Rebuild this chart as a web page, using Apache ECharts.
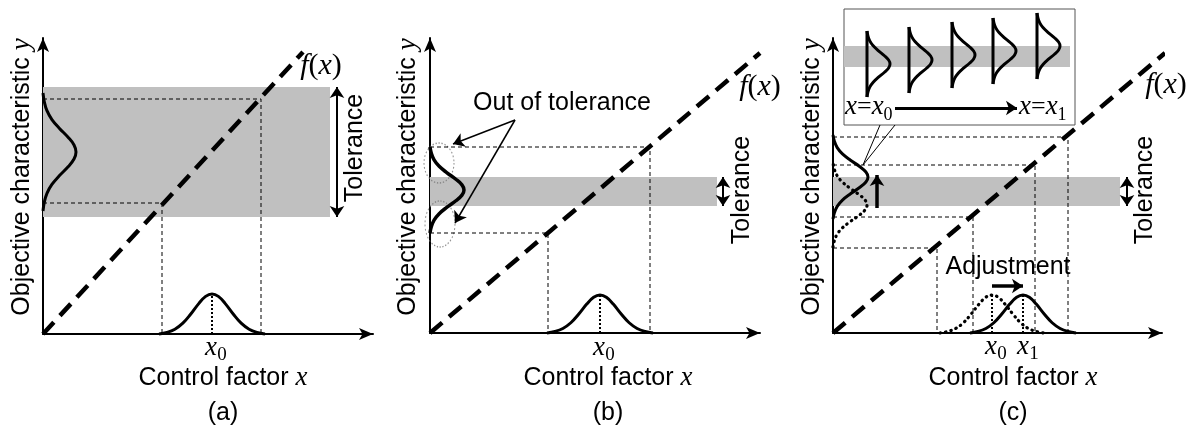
<!DOCTYPE html>
<html>
<head>
<meta charset="utf-8">
<script src="https://cdn.jsdelivr.net/npm/echarts@6/dist/echarts.min.js"></script>
<style>
html,body{margin:0;padding:0;background:#fff}
#main{width:1188px;height:437px}
</style>
</head>
<body>
<div id="main"></div>
<script>
// all values are in axis units (1 unit = 1 px from each panel's origin)
// bell profile: [offset in half-widths, relative height]
var bellShape = [[-1,0],[-0.85,0.04],[-0.7,0.12],[-0.55,0.27],[-0.4,0.5],[-0.25,0.76],[-0.12,0.94],[0,1],
                 [0.12,0.94],[0.25,0.76],[0.4,0.5],[0.55,0.27],[0.7,0.12],[0.85,0.04],[1,0]];

// (a)
var fA = [[0,0],[260,282]];
var tolA = [287, 117, 247];          // band right end, low, high
var tolArrowA = [294, 117, 247];
var guideA = [[119,131],[218,235]];  // where the guide meets f(x)
var bellXA = [[169,53,40]];          // centre, half width, height
var bellYA = [[182,59,33]];

// (b)
var fB = [[0,0],[330,280]];
var tolB = [287, 127, 156];
var tolArrowB = [293, 127, 156];
var guideB = [[118,100],[220,186]];
var bellXB = [[170,53,38]];
var bellYB = [[143,43,34]];
var outRings = [[9,170],[10,109]];
var outArrows = [[[85,213],[23,189]],[[85,213],[25,110]]];

// (c)
var fC = [[0,0],[332,280]];
var tolC = [287, 127, 156];
var tolArrowC = [294, 127, 156];
var guideC = [[104,85],[140,116],[202,168],[235,196]];
var bellXC0 = [[159,52,38]];   // before adjustment (dotted)
var bellXC1 = [[190,53,38]];   // after adjustment
var bellYC0 = [[128,42,34]];
var bellYC1 = [[156,42,35]];
var upArrow = [[44,125],[44,158]];
var adjArrow = [[159,47],[190,47]];
var callout = [[[47,208],[30,168]],[[62,208],[30,168]]];

// inset of (c)
var insetX = [23,65,108,149,193];
var insetMid = [61,65,70,74,79];
var insetBand = [226, 58, 79];
var insetArrow = [[51,17],[173,17]];

var sans = '"Liberation Sans", Arial, sans-serif';
var serif = '"Liberation Serif", "Times New Roman", serif';

var grids = [
    {left:43, top:38, width:330, height:296},
    {left:430, top:38, width:330, height:295},
    {left:833, top:38, width:329, height:295},
    {left:844, top:9, width:231, height:116, show:true, borderColor:'#555', borderWidth:1, backgroundColor:'#fff'}
];

function bellX(b){ return bellShape.map(function(p){ return [b[0]+p[0]*b[1], p[1]*b[2]]; }); }
function bellY(b){ return bellShape.map(function(p){ return [p[1]*b[2], b[0]+p[0]*b[1]]; }); }

var series = [];
function line(g, data, st, extra){
    var s = {type:'line', xAxisIndex:g, yAxisIndex:g, data:data, symbol:'none', silent:true, clip:false,
             z:3, lineStyle:st, animation:false};
    for (var k in extra) s[k] = extra[k];
    series.push(s);
}
var solid = {color:'#000', width:3};
var dotted = {color:'#000', width:3.2, type:[0.5,5], cap:'round'};
var guide = {color:'#000', width:1, type:[4,3]};
var fLine = {color:'#000', width:4.5, type:[16,9]};
var centre = {color:'#000', width:2, type:[2,2]};

function band(g, t){
    series.push({type:'line', xAxisIndex:g, yAxisIndex:g, data:[], z:1, silent:true, animation:false,
        markArea:{silent:true, itemStyle:{color:'#c0c0c0'}, data:[[{coord:[0,t[1]]},{coord:[t[0],t[2]]}]]}});
}
function arrows(g, list, sym, w){
    series.push({type:'line', xAxisIndex:g, yAxisIndex:g, data:[], z:4, silent:true, animation:false,
        markLine:{silent:true, symbol:sym, symbolSize:[11,11], label:{show:false},
            lineStyle:{color:'#000', width:w, type:'solid'},
            data:list.map(function(a){ return [{coord:a[0]},{coord:a[1]}]; })}});
}
function guides(g, list){
    list.forEach(function(p){ line(g, [[0,p[1]],[p[0],p[1]],[p[0],0]], guide); });
}

// (a)
band(0, tolA);
guides(0, guideA);
line(0, fA, fLine);
bellXA.forEach(function(b){ line(0, bellX(b), solid, {smooth:0.4}); line(0, [[b[0],0],[b[0],b[2]]], centre); });
bellYA.forEach(function(b){ line(0, bellY(b), solid, {smooth:0.4}); });
arrows(0, [[[tolArrowA[0],tolArrowA[1]],[tolArrowA[0],tolArrowA[2]]]], ['arrow','arrow'], 2);

// (b)
band(1, tolB);
guides(1, guideB);
line(1, fB, fLine);
bellXB.forEach(function(b){ line(1, bellX(b), solid, {smooth:0.4}); line(1, [[b[0],0],[b[0],b[2]]], centre); });
bellYB.forEach(function(b){ line(1, bellY(b), {color:'#000', width:3.5}, {smooth:0.4}); });
arrows(1, [[[tolArrowB[0],tolArrowB[1]],[tolArrowB[0],tolArrowB[2]]]], ['arrow','arrow'], 2);
arrows(1, outArrows, ['none','arrow'], 1.5);
series.push({type:'scatter', xAxisIndex:1, yAxisIndex:1, silent:true, animation:false, z:2,
    data:[{value:outRings[0], symbolSize:[30,40]},{value:outRings[1], symbolSize:[30,46]}],
    itemStyle:{color:'rgba(0,0,0,0)', borderColor:'#777', borderWidth:1.2, borderType:[1.5,2]}});

// (c)
band(2, tolC);
guides(2, guideC);
line(2, fC, fLine);
bellXC0.forEach(function(b){ line(2, bellX(b), dotted, {smooth:0.4}); line(2, [[b[0],0],[b[0],b[2]]], centre); });
bellXC1.forEach(function(b){ line(2, bellX(b), solid, {smooth:0.4}); line(2, [[b[0],0],[b[0],b[2]]], centre); });
bellYC0.forEach(function(b){ line(2, bellY(b), dotted, {smooth:0.4}); });
bellYC1.forEach(function(b){ line(2, bellY(b), solid, {smooth:0.4}); });
callout.forEach(function(c){ line(2, c, {color:'#000', width:1}); });
arrows(2, [[[tolArrowC[0],tolArrowC[1]],[tolArrowC[0],tolArrowC[2]]]], ['arrow','arrow'], 2);
arrows(2, [upArrow, adjArrow], ['none','arrow'], 3.5);

// inset
band(3, insetBand);
insetX.forEach(function(x, i){
    var b = [insetMid[i], 33, 23];
    line(3, bellY(b).map(function(p){ return [p[0]+x, p[1]]; }), solid, {smooth:0.4});
    line(3, [[x,insetMid[i]-33],[x,insetMid[i]+33]], solid);
});
arrows(3, [insetArrow], ['none','arrow'], 3);

function axis(i){
    return {gridIndex:i, type:'value', min:0, show:i<3,
        axisLine:{show:true, symbol:['none','arrow'], symbolSize:[9,14], lineStyle:{color:'#000', width:2}},
        axisTick:{show:false}, axisLabel:{show:false}, splitLine:{show:false}};
}
var xAxes = grids.map(function(g,i){ var a = axis(i); a.max = g.width; return a; });
var yAxes = grids.map(function(g,i){ var a = axis(i); a.max = g.height; return a; });

// texts
var graphic = [];
function text(x, y, str, size, font, extra){
    var el = {type:'text', x:x, y:y, z:10, silent:true,
        style:{text:str, fontSize:size, fontFamily:font, fill:'#000', align:'center', verticalAlign:'middle'}};
    for (var k in extra) {
        if (k === 'style') { for (var s in extra.style) el.style[s] = extra.style[s]; }
        else el[k] = extra[k];
    }
    graphic.push(el);
}
var richItal = {i:{fontFamily:serif, fontStyle:'italic', fontSize:27}};
var richF = {i:{fontFamily:serif, fontStyle:'italic', fontSize:30}, r:{fontFamily:serif, fontSize:30}};
function sub(cx, cy, base, s){
    text(cx-1, cy, base, 27, serif, {style:{fontStyle:'italic'}});
    text(cx+10, cy+7, s, 19, serif);
}
[22, 408, 812].forEach(function(x){
    text(x, 177, 'Objective characteristic {i|y}', 25, sans, {rotation:Math.PI/2, style:{rich:richItal}});
});
[[223,'(a)'],[608,'(b)'],[1013,'(c)']].forEach(function(p){
    text(p[0], 378, 'Control factor {i|x}', 25, sans, {style:{rich:richItal}});
    text(p[0], 413, p[1], 25, sans);
});
[[321,66],[760,87],[1166,85]].forEach(function(p){
    text(p[0], p[1], '{i|f}{r|(}{i|x}{r|)}', 30, serif, {style:{rich:richF}});
});
[[355,148],[742,190],[1145,190]].forEach(function(p){
    text(p[0], p[1], 'Tolerance', 25, sans, {rotation:Math.PI/2});
});
sub(212, 348, 'x', '0');
sub(600, 348, 'x', '0');
sub(992, 347, 'x', '0');
sub(1024, 347, 'x', '1');
text(562, 103, 'Out of tolerance', 25, sans);
text(1008, 267, 'Adjustment', 25, sans);
text(845, 107, '{i|x}={i|x}', 26, serif, {style:{align:'left', rich:{i:{fontFamily:serif, fontStyle:'italic', fontSize:27}}}});
text(888, 115, '0', 18, serif);
text(1019, 107, '{i|x}={i|x}', 26, serif, {style:{align:'left', rich:{i:{fontFamily:serif, fontStyle:'italic', fontSize:27}}}});
text(1062, 115, '1', 18, serif);

var myChart = echarts.init(document.getElementById('main'), null, {renderer:'canvas'});
myChart.setOption({
    animation:false,
    backgroundColor:'#fff',
    grid:grids,
    xAxis:xAxes,
    yAxis:yAxes,
    series:series,
    graphic:graphic
});
</script>
</body>
</html>
